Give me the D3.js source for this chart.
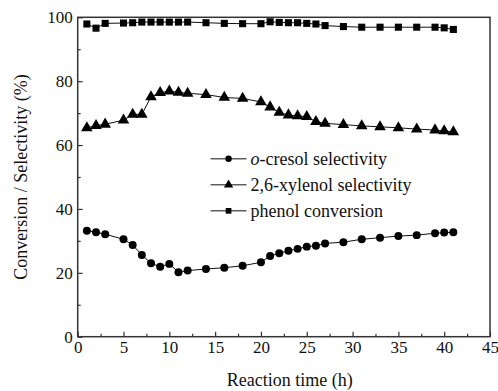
<!DOCTYPE html>
<html>
<head>
<meta charset="utf-8">
<script src="https://cdn.jsdelivr.net/npm/d3@7"></script>
<style>
  body { margin: 0; background: #fff; }
  svg text { font-family: "Liberation Serif", "DejaVu Serif", "Times New Roman", serif; fill: #111; }
  .axis path { display: none; }
  .axis line { stroke: #333; stroke-width: 1.2px; }
</style>
</head>
<body>
<svg width="498" height="391"></svg>
<script>
// reaction time (h) of each sample
var times = [1, 2, 3, 5, 6, 7, 8, 9, 10, 11, 12, 14, 16, 18, 20, 21, 22, 23, 24, 25, 26, 27, 29, 31, 33, 35, 37, 39, 40, 41];
var cresolSel = [33.2, 32.7, 32.1, 30.5, 28.7, 25.6, 23.0, 21.9, 22.8, 20.2, 20.7, 21.2, 21.6, 22.2, 23.3, 25.3, 26.1, 26.9, 27.5, 28.2, 28.5, 29.2, 29.6, 30.5, 31.0, 31.5, 31.8, 32.4, 32.6, 32.7];
var xylenolSel = [65.4, 66.1, 66.5, 67.8, 69.6, 69.6, 75.1, 76.4, 76.9, 76.5, 76.2, 75.8, 74.9, 74.6, 73.5, 71.9, 70.2, 69.4, 69.1, 68.9, 67.3, 66.8, 66.4, 66.0, 65.7, 65.4, 65.0, 64.7, 64.4, 64.1];
var phenolConv = [97.9, 96.6, 98.1, 98.2, 98.3, 98.5, 98.5, 98.5, 98.5, 98.5, 98.5, 98.3, 98.1, 98.0, 98.0, 98.6, 98.4, 98.3, 98.3, 98.1, 97.9, 97.4, 97.1, 96.9, 96.9, 96.9, 96.9, 96.9, 96.7, 96.2];
var seriesNames = ["o-cresol selectivity", "2,6-xylenol selectivity", "phenol conversion"];
var xTicks = [0, 5, 10, 15, 20, 25, 30, 35, 40, 45];
var yTicks = [0, 20, 40, 60, 80, 100];

var svg = d3.select("svg"),
    margin = {top: 17.3, right: 8, bottom: 54.3, left: 77.7},
    width = svg.attr("width") - margin.left - margin.right,
    height = svg.attr("height") - margin.top - margin.bottom,
    g = svg.append("g").attr("transform", "translate(" + margin.left + "," + margin.top + ")");

var serif = "'Liberation Serif', 'DejaVu Serif', serif";

var x = d3.scaleLinear().domain([0, 45]).range([0, width]),
    y = d3.scaleLinear().domain([0, 100]).range([height, 0]);

var series = [
  {name: seriesNames[0], symbol: d3.symbolCircle, size: 50, values: cresolSel},
  {name: seriesNames[1], symbol: d3.symbolTriangle, size: 58, values: xylenolSel},
  {name: seriesNames[2], symbol: d3.symbolSquare, size: 50, values: phenolConv}
];

var line = d3.line()
    .x(function(d) { return x(d.t); })
    .y(function(d) { return y(d.v); });

// minor ticks first, then major with labels
g.append("g")
    .attr("class", "axis")
    .attr("transform", "translate(0," + height + ")")
    .call(d3.axisBottom(x).tickValues(d3.range(2.5, 45, 5)).tickSize(-3).tickFormat(""));
g.append("g")
    .attr("class", "axis")
    .call(d3.axisLeft(y).tickValues(d3.range(10, 100, 20)).tickSize(-3).tickFormat(""));

g.append("g")
    .attr("class", "axis")
    .attr("transform", "translate(0," + height + ")")
    .attr("font-family", serif)
    .call(d3.axisBottom(x).tickValues(xTicks).tickSize(-5).tickPadding(4).tickFormat(d3.format("d")))
  .selectAll("text")
    .attr("font-family", serif)
    .attr("font-size", "17px");

g.append("g")
    .attr("class", "axis")
    .attr("font-family", serif)
    .call(d3.axisLeft(y).tickValues(yTicks).tickSize(-5).tickPadding(5).tickFormat(d3.format("d")))
  .selectAll("text")
    .attr("font-family", serif)
    .attr("font-size", "17px");

// frame
g.append("rect")
    .attr("width", width)
    .attr("height", height)
    .attr("fill", "none")
    .attr("stroke", "#333")
    .attr("stroke-width", 1.5);

var s = g.selectAll(".series")
  .data(series)
  .enter().append("g")
    .attr("class", "series");

s.append("path")
    .attr("fill", "none")
    .attr("stroke", "#111")
    .attr("stroke-width", 1)
    .attr("d", function(d) {
      return line(d.values.map(function(v, i) { return {t: times[i], v: v}; }));
    });

s.each(function(d) {
  d3.select(this).selectAll(".pt")
    .data(d.values)
    .enter().append("path")
      .attr("class", "pt")
      .attr("fill", "#000")
      .attr("transform", function(v, i) { return "translate(" + x(times[i]) + "," + y(v) + ")"; })
      .attr("d", d3.symbol().type(d.symbol).size(d.size));
});

// legend
var legend = g.append("g")
    .attr("transform", "translate(" + x(14.5) + "," + (y(56) + 1) + ")");
var item = legend.selectAll(".item")
  .data(series)
  .enter().append("g")
    .attr("transform", function(d, i) { return "translate(0," + (i * 26) + ")"; });
item.append("line")
    .attr("x1", 0).attr("x2", 36)
    .attr("stroke", "#111").attr("stroke-width", 1);
item.append("path")
    .attr("transform", "translate(18,0)")
    .attr("d", function(d) { return d3.symbol().type(d.symbol).size(d.size * 0.65)(); });
item.append("text")
    .attr("x", 40)
    .attr("dy", "0.33em")
    .attr("font-family", serif)
    .attr("font-size", "18px")
    .each(function(d) {
      var t = d3.select(this);
      if (d.name.indexOf("o-") === 0) {
        t.append("tspan").attr("font-style", "italic").text("o");
        t.append("tspan").text(d.name.slice(1));
      } else {
        t.text(d.name);
      }
    });

// axis titles
svg.append("text")
    .attr("x", margin.left + width / 2 + 6)
    .attr("y", 386)
    .attr("text-anchor", "middle")
    .attr("font-family", serif)
    .attr("font-size", "18px")
    .text("Reaction time (h)");

svg.append("text")
    .attr("transform", "translate(27," + (margin.top + height / 2) + ") rotate(-90)")
    .attr("text-anchor", "middle")
    .attr("font-family", serif)
    .attr("font-size", "18px")
    .text("Conversion / Selectivity (%)");
</script>
</body>
</html>
